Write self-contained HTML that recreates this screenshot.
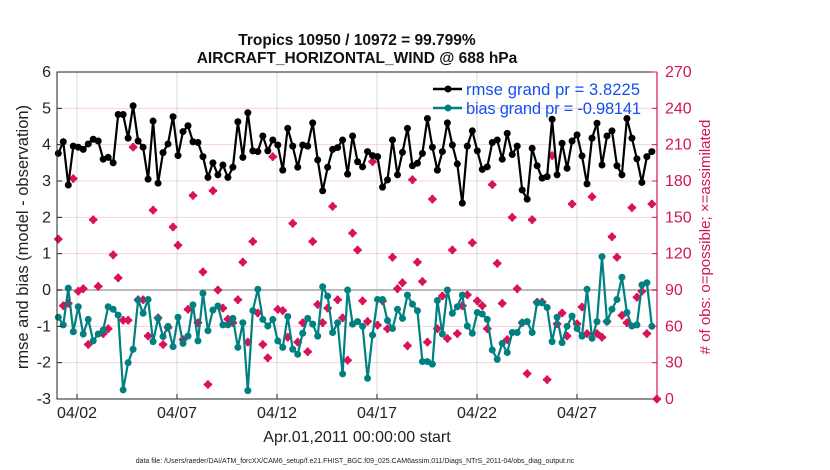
<!DOCTYPE html>
<html><head><meta charset="utf-8"><style>
body{margin:0;background:#fff;}
svg{display:block;font-family:"Liberation Sans",sans-serif;}
</style></head><body>
<svg id="chart" width="830" height="470">
<text x="357" y="45" text-anchor="middle" font-size="15.5" font-weight="bold" fill="#111">Tropics 10950 / 10972 = 99.799%</text>
<text x="357" y="63" text-anchor="middle" font-size="15.5" font-weight="bold" fill="#111">AIRCRAFT_HORIZONTAL_WIND @ 688 hPa</text>
<g id="grid"></g>
<g id="marks"></g>
<g id="axes"></g>
<text transform="translate(28,237) rotate(-90)" text-anchor="middle" font-size="16.5" fill="#222">rmse and bias (model - observation)</text>
<text transform="translate(710,237) rotate(-90)" text-anchor="middle" font-size="15" fill="#d4145a"># of obs: o=possible; ×=assimilated</text>
<text x="357" y="442" text-anchor="middle" font-size="16" fill="#222">Apr.01,2011 00:00:00 start</text>
<text x="355" y="463" text-anchor="middle" font-size="7" fill="#222">data file: /Users/raeder/DAI/ATM_forcXX/CAM6_setup/f.e21.FHIST_BGC.f09_025.CAM6assim.011/Diags_NTrS_2011-04/obs_diag_output.nc</text>
<g id="legend">
<line x1="433" y1="89" x2="462" y2="89" stroke="#000" stroke-width="2.5"/>
<circle cx="448" cy="89" r="3.5" fill="#000"/>
<text x="466" y="95" font-size="16.5" fill="#1450f0" textLength="174">rmse grand pr = 3.8225</text>
<line x1="433" y1="108" x2="462" y2="108" stroke="#008080" stroke-width="2.5"/>
<circle cx="448" cy="108" r="3.5" fill="#008080"/>
<text x="466" y="114" font-size="16.5" fill="#1450f0" textLength="175">bias grand pr = -0.98141</text>
</g>
</svg>
<script>
const rmse=[3.76,4.08,2.89,3.96,3.93,3.87,4.02,4.15,4.1,3.6,3.65,3.5,4.83,4.83,4.18,5.07,4.1,3.93,3.05,4.65,2.94,3.78,4.02,4.77,3.7,4.36,4.52,4.08,4.06,3.67,3.1,
3.5,3.17,3.44,3.1,3.38,4.63,3.65,4.88,3.83,3.81,4.24,3.83,4.13,3.99,3.3,4.45,3.96,3.38,3.99,3.96,4.6,3.58,2.73,3.38,3.87,3.92,4.13,3.19,4.24,3.53,
3.39,3.81,3.7,3.67,2.83,3.03,4.13,3.17,3.79,4.45,3.42,3.49,3.76,4.72,3.93,3.3,3.81,4.6,3.99,3.47,2.39,3.96,4.38,3.83,3.32,3.39,4.06,4.13,3.6,4.31,
3.73,3.96,2.75,2.5,3.9,3.42,3.08,3.12,4.7,3.17,4.04,3.35,4.1,4.27,3.69,2.92,4.18,4.59,3.44,4.24,4.38,3.42,3.17,4.72,4.18,3.61,2.96,3.67,3.81];
const bias=[-0.75,-0.96,0.05,-1.15,-0.46,-1.21,-0.81,-1.4,-1.21,-1.1,-0.46,-0.53,-0.69,-2.75,-2.0,-1.63,-0.28,-0.64,-0.26,-1.42,-0.78,-1.28,-1.0,-1.56,-0.75,-1.47,-1.27,-0.41,-1.4,-0.09,-1.12,
-0.55,-0.44,-0.96,-0.96,-0.78,-1.58,-0.9,-2.77,-0.57,0.02,-0.81,-0.99,-0.81,-1.4,-1.58,-0.73,-1.63,-1.77,-1.19,-0.78,-0.94,-1.27,0.09,-0.17,-1.17,-0.9,-2.31,0.0,-0.94,-0.87,
-1.0,-2.43,-1.24,-0.26,-0.26,-0.84,-1.06,-0.53,-0.78,-0.14,-0.39,-0.57,-1.97,-1.97,-2.04,-0.29,-1.21,0.0,-0.64,-0.46,-0.14,-0.99,-1.19,-0.62,-0.66,-0.81,-1.65,-1.91,-1.47,-1.72,
-1.17,-1.17,-0.9,-0.87,-1.17,-0.35,-0.35,-0.48,-1.42,-0.75,-1.45,-1.0,-0.72,-1.06,-1.27,0.02,-1.33,-0.87,0.92,-0.87,-0.53,-0.26,0.35,-0.62,-0.99,-0.96,0.14,0.2,-1.0];
const nobs=[132,77,79,182,89,91,45,148,93,54,58,119,100,65,65,208,82,82,52,156,67,45,59,142,127,49,74,168,63,105,12,
172,90,75,66,63,82,113,47,130,71,45,34,200,74,73,51,145,47,63,39,130,78,63,75,159,82,67,32,137,123,
81,64,196,61,81,58,117,91,96,44,181,113,97,47,165,58,85,50,123,54,77,86,129,81,77,58,177,112,79,49,
150,91,63,21,148,80,80,16,201,62,71,52,161,62,76,54,167,54,51,64,134,117,69,63,158,84,89,54,161,0];
const xTickDays=[1,6,11,16,21,26];
const xTickLabels=["04/02","04/07","04/12","04/17","04/22","04/27"];
const yTicksLeft=[-3,-2,-1,0,1,2,3,4,5,6];
const yTicksRight=[0,30,60,90,120,150,180,210,240,270];
const t0=0.065, dt=0.2494;

const X0=57,X1=657,Y0=399,Y1=72;
const xs=d=>X0+(d/30)*(X1-X0);
const yl=v=>Y0-(v+3)/9*(Y0-Y1);
const yr=v=>Y0-v/270*(Y0-Y1);
const NS="http://www.w3.org/2000/svg";
function mk(tag,attrs,parent){const e=document.createElementNS(NS,tag);for(const k in attrs)e.setAttribute(k,attrs[k]);parent.appendChild(e);return e;}
const grid=document.getElementById('grid'),marks=document.getElementById('marks'),axes=document.getElementById('axes');
yTicksRight.forEach(v=>{const l=mk('line',{x1:X0,x2:X1,y1:yr(v),y2:yr(v),stroke:'#f6cfe0','stroke-width':1},grid);

});
xTickDays.forEach(d=>{const l=mk('line',{x1:xs(d),x2:xs(d),y1:Y1,y2:Y0,stroke:'#d8d8d8','stroke-width':1},grid);

});
const zl=mk('line',{x1:X0,x2:X1,y1:yl(0),y2:yl(0),stroke:'#bbb','stroke-width':2},grid);


nobs.forEach((v,i)=>{const cx=xs(t0+i*dt),cy=yr(v);
const g=mk('g',{},marks);


mk('path',{d:`M${cx-4.5},${cy}L${cx},${cy-4.5}L${cx+4.5},${cy}L${cx},${cy+4.5}Z`,fill:'#d9125a'},g);
mk('path',{d:`M${cx-4},${cy}H${cx+4}M${cx},${cy-4}V${cy+4}`,stroke:'#d9125a','stroke-width':2.5},g);});
function series(arr,color,name){
const pts=arr.map((v,i)=>xs(t0+i*dt).toFixed(1)+','+yl(v).toFixed(1)).join(' ');
const pl=mk('polyline',{points:pts,fill:'none',stroke:color,'stroke-width':2.2},marks);


arr.forEach((v,i)=>{const c=mk('circle',{cx:xs(t0+i*dt),cy:yl(v),r:3.5,fill:color},marks);

});}
series(bias,'#008080','bias');
series(rmse,'#000000','rmse');
const b1=mk('path',{d:`M${X1},${Y1}H${X0}V${Y0}H${X1}`,fill:'none',stroke:'#222','stroke-width':1},axes);


const b2=mk('line',{x1:X1,x2:X1,y1:Y1,y2:Y0,stroke:'#d4145a','stroke-width':1.2},axes);


yTicksLeft.forEach(v=>{mk('line',{x1:X0,x2:X0+5,y1:yl(v),y2:yl(v),stroke:'#222'},axes);
const t=mk('text',{x:X0-6,y:yl(v)+5,'text-anchor':'end','font-size':16,fill:'#222'},axes);t.textContent=v;

});
yTicksRight.forEach(v=>{mk('line',{x1:X1-5,x2:X1,y1:yr(v),y2:yr(v),stroke:'#d4145a'},axes);
const t=mk('text',{x:X1+8,y:yr(v)+5,'font-size':16,fill:'#d4145a'},axes);t.textContent=v;

});
xTickDays.forEach((d,i)=>{mk('line',{x1:xs(d),x2:xs(d),y1:Y0,y2:Y0-5,stroke:'#222'},axes);
const t=mk('text',{x:xs(d),y:418,'text-anchor':'middle','font-size':16,fill:'#222'},axes);t.textContent=xTickLabels[i];

});
</script>
</body></html>
